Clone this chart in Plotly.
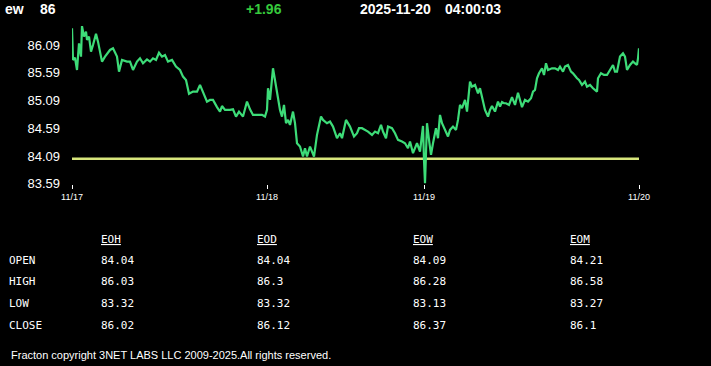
import plotly.graph_objects as go

# ---- data ----
bar_index = [0, 1, 3, 5, 7, 9, 10, 12, 14, 15, 17, 19, 21, 24, 26, 30, 33, 36, 38, 41,
             45, 47, 50, 55, 58, 61, 65, 68, 71, 75, 78, 81, 84, 87, 90, 93, 96, 100, 104, 108,
             111, 114, 117, 121, 125, 128, 131, 135, 138, 141, 145, 148, 150, 153, 158, 161, 164, 167, 171, 173,
             175, 178, 181, 185, 190, 193, 195, 196, 198, 201, 204, 206, 208, 210, 212, 214, 216, 218, 221, 223,
             225, 228, 231, 233, 235, 238, 240, 242, 245, 249, 251, 255, 258, 261, 265, 268, 270, 274, 278, 282,
             285, 287, 290, 293, 296, 300, 303, 306, 309, 311, 314, 316, 320, 323, 326, 330, 333, 336, 338, 341,
             345, 348, 351, 352, 353, 354, 355, 357, 359, 361, 364, 366, 368, 370, 373, 376, 378, 381, 384, 386,
             388, 390, 393, 395, 398, 400, 403, 406, 408, 410, 413, 416, 418, 420, 423, 426, 428, 430, 432, 434,
             437, 440, 443, 446, 450, 453, 456, 459, 461, 463, 465, 467, 470, 472, 474, 476, 480, 483, 486, 488,
             491, 493, 496, 499, 501, 505, 507, 510, 513, 515, 518, 521, 525, 526, 529, 532, 535, 538, 541, 543,
             545, 548, 551, 553, 555, 558, 561, 563, 565, 566, 567]
price = [86.39, 85.82, 85.86, 85.64, 86.12, 85.88, 86.43, 86.24, 86.33, 86.18, 86.24, 85.97, 86.09, 86.29, 86.15, 85.79, 85.88, 85.94, 86.00, 86.03,
         85.88, 85.61, 85.82, 85.79, 85.79, 85.64, 85.79, 85.85, 85.76, 85.83, 85.79, 85.85, 85.82, 85.95, 85.88, 85.91, 85.79, 85.82, 85.70, 85.64,
         85.52, 85.46, 85.21, 85.25, 85.25, 85.37, 85.25, 85.07, 85.10, 85.10, 84.97, 84.89, 84.99, 84.92, 84.92, 84.93, 84.80, 84.89, 84.80, 84.92,
         85.07, 84.93, 84.83, 84.83, 84.83, 84.80, 84.92, 85.31, 85.10, 85.67, 85.34, 85.10, 84.92, 84.80, 85.01, 84.68, 84.74, 84.65, 84.89, 84.68,
         84.32, 84.26, 84.08, 84.23, 84.08, 84.26, 84.17, 84.08, 84.47, 84.80, 84.74, 84.68, 84.71, 84.62, 84.41, 84.50, 84.41, 84.74, 84.62, 84.44,
         84.50, 84.59, 84.59, 84.56, 84.53, 84.47, 84.53, 84.50, 84.65, 84.53, 84.41, 84.62, 84.59, 84.50, 84.38, 84.35, 84.32, 84.23, 84.35, 84.14,
         84.32, 84.17, 84.63, 84.02, 83.60, 84.14, 84.68, 84.38, 84.11, 84.32, 84.59, 84.41, 84.83, 84.68, 84.56, 84.44, 84.56, 84.62, 84.56, 84.74,
         85.01, 84.95, 85.10, 84.89, 85.43, 85.34, 85.37, 85.22, 85.31, 85.16, 84.92, 84.80, 84.92, 84.99, 84.89, 85.07, 84.98, 85.06, 85.04, 85.04,
         85.01, 85.15, 85.01, 85.23, 84.97, 85.10, 85.07, 85.13, 85.25, 85.28, 85.49, 85.58, 85.67, 85.55, 85.76, 85.64, 85.67, 85.67, 85.64, 85.70,
         85.61, 85.70, 85.73, 85.61, 85.58, 85.49, 85.46, 85.37, 85.43, 85.34, 85.37, 85.31, 85.25, 85.49, 85.58, 85.55, 85.55, 85.64, 85.73, 85.61,
         85.61, 85.88, 85.94, 85.88, 85.64, 85.73, 85.79, 85.76, 85.73, 85.85, 86.03]

open_level = 84.04
y_ticks = [83.59, 84.09, 84.59, 85.09, 85.59, 86.09]
x_tick_pos = [0, 195, 352, 567]
x_tick_text = ["11/17", "11/18", "11/19", "11/20"]

symbol = "ew"
last_price = "86"
change = "+1.96"
date_str = "2025-11-20"
time_str = "04:00:03"

table_cols = ["EOH", "EOD", "EOW", "EOM"]
table_rows = ["OPEN", "HIGH", "LOW", "CLOSE"]
eoh = ["84.04", "86.03", "83.32", "86.02"]
eod = ["84.04", "86.3", "83.32", "86.12"]
eow = ["84.09", "86.28", "83.13", "86.37"]
eom = ["84.21", "86.58", "83.27", "86.1"]
footer = "Fracton copyright 3NET LABS LLC 2009-2025.All rights reserved."

# ---- layout geometry ----
W, H = 711, 366
L, R, T, B = 72, 72, 24, 182
PW, PH = W - L - R, H - T - B


def px(x):
    return (x - L) / PW


def py(y):
    return (H - B - y) / PH


fig = go.Figure()
fig.add_trace(go.Scatter(x=[bar_index[0], bar_index[-1]], y=[open_level, open_level],
                         mode="lines", line=dict(color="#d8e67c", width=2.5),
                         hoverinfo="skip", showlegend=False))
fig.add_trace(go.Scatter(x=bar_index, y=price, mode="lines",
                         line=dict(color="#3ddc78", width=2.2), showlegend=False))

ann = []
hdr_font = dict(family="Liberation Sans, Arial", size=14, color="white")
ann.append(dict(x=px(3), y=py(9), text=f"<b>{symbol}</b>", xanchor="left", font=hdr_font))
ann.append(dict(x=px(38), y=py(9), text=f"<b>{last_price}</b>", xanchor="left", font=hdr_font))
ann.append(dict(x=px(244), y=py(9), text=f"<b>{change}</b>", xanchor="left",
                font=dict(family="Liberation Sans, Arial", size=14, color="#36c93c")))
ann.append(dict(x=px(358), y=py(9), text=f"<b>{date_str}</b>", xanchor="left", font=hdr_font))
ann.append(dict(x=px(443), y=py(9), text=f"<b>{time_str}</b>", xanchor="left", font=hdr_font))

mono = dict(family="DejaVu Sans Mono, monospace", size=11, color="white")
col_x = [99, 255, 411, 568]
row_y = [260, 281, 303, 325]
for cx, name in zip(col_x, table_cols):
    ann.append(dict(x=px(cx), y=py(239), text=f"<u>{name}</u>", xanchor="left", font=mono))
for ry, name in zip(row_y, table_rows):
    ann.append(dict(x=px(7), y=py(ry), text=name, xanchor="left", font=mono))
for cx, col in zip(col_x, [eoh, eod, eow, eom]):
    for ry, v in zip(row_y, col):
        ann.append(dict(x=px(cx), y=py(ry), text=v, xanchor="left", font=mono))

ann.append(dict(x=px(9), y=py(355), text=footer, xanchor="left",
                font=dict(family="Liberation Sans, Arial", size=11, color="white")))

for a in ann:
    a.update(xref="paper", yref="paper", yanchor="middle", showarrow=False)

fig.update_layout(
    width=W, height=H,
    margin=dict(l=L, r=R, t=T, b=B, pad=0),
    paper_bgcolor="black", plot_bgcolor="black",
    annotations=ann,
    xaxis=dict(range=[0, 567], showgrid=False, zeroline=False, showline=False,
               tickmode="array", tickvals=x_tick_pos, ticktext=x_tick_text,
               ticks="outside", ticklen=4, tickcolor="white", tickwidth=1,
               tickfont=dict(family="Liberation Sans, Arial", size=9, color="white")),
    yaxis=dict(range=[83.585, 86.468], showgrid=False, zeroline=False, showline=False,
               tickmode="array", tickvals=y_ticks, ticktext=[f"{v:.2f}" for v in y_ticks],
               ticks="", ticklabelstandoff=11,
               tickfont=dict(family="Liberation Sans, Arial", size=13, color="white")),
    hovermode=False,
)

fig.write_html("out.html",
               config={"displayModeBar": False},
               post_script="document.body.style.margin='0';document.body.style.background='black';")
